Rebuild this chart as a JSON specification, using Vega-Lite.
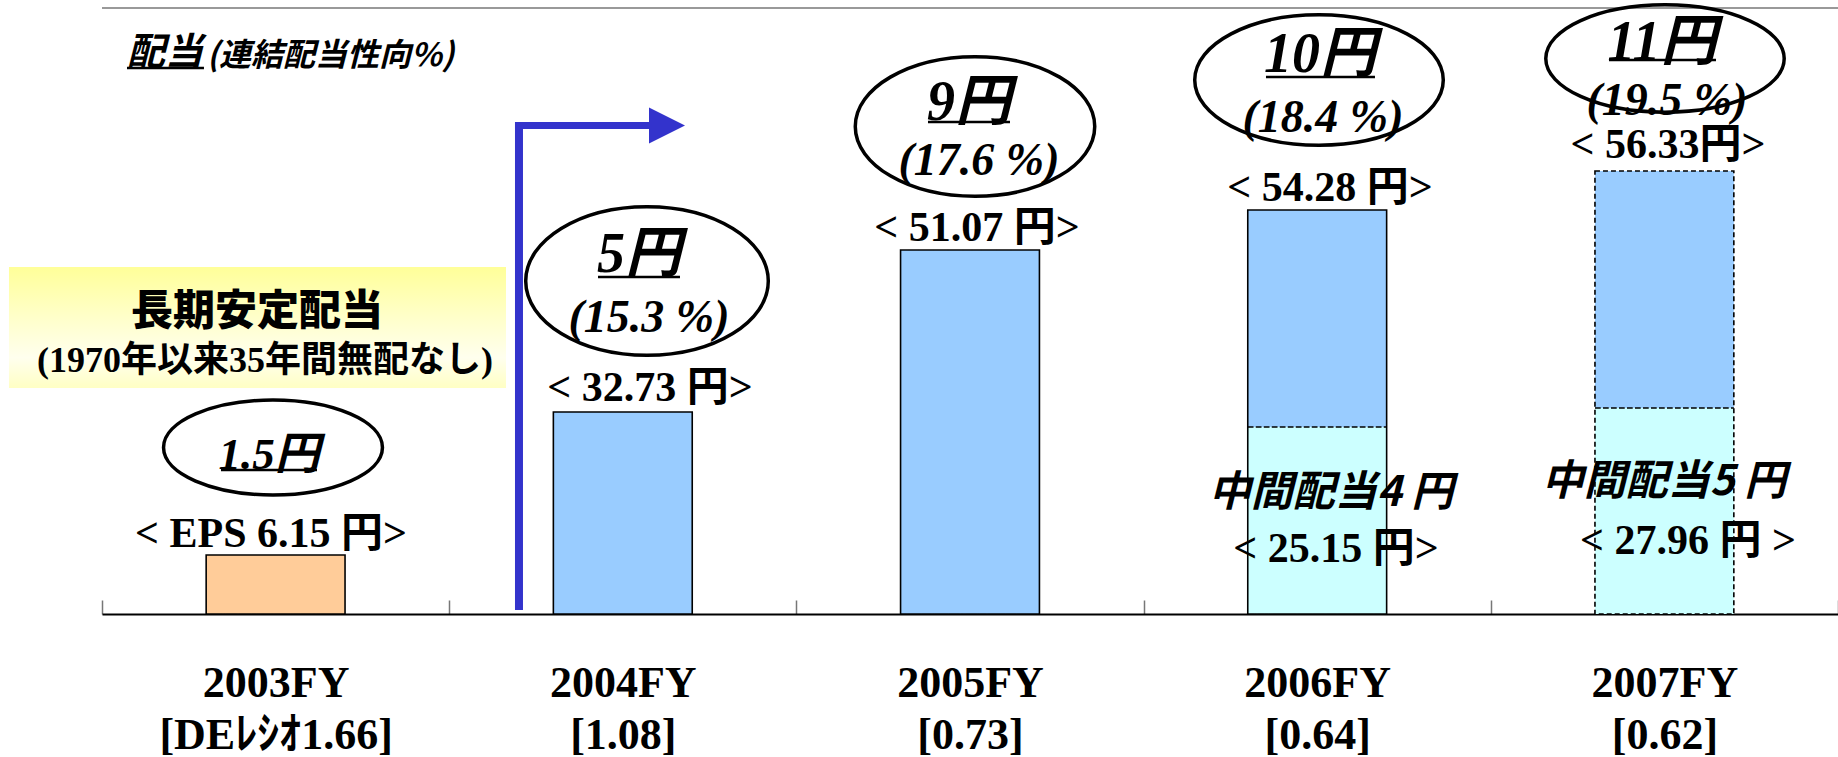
{
  "$schema": "https://vega.github.io/schema/vega-lite/v6.json",
  "width": 1736,
  "height": 606,
  "autosize": {"type": "none"},
  "padding": {"left": 102, "top": 8, "right": 0, "bottom": 143},
  "background": "white",
  "config": {"view": {"stroke": null}, "axis": {"grid": false}},
  "datasets": {
    "bars": [
      {"year": "2003FY", "kind": "2003年度", "lo": 0, "hi": 0.292},
      {"year": "2004FY", "kind": "期末", "lo": 0, "hi": 1.0},
      {"year": "2005FY", "kind": "期末", "lo": 0, "hi": 1.802},
      {"year": "2006FY", "kind": "中間", "lo": 0, "hi": 0.926},
      {"year": "2006FY", "kind": "期末", "lo": 0.926, "hi": 2.0},
      {"year": "2007FY", "kind": "中間", "lo": 0, "hi": 1.02},
      {"year": "2007FY", "kind": "期末", "lo": 1.02, "hi": 2.193}
    ],
    "outline": [
      {"year": "2003FY", "base": 0, "top": 0.292, "line": "実線"},
      {"year": "2004FY", "base": 0, "top": 1.0, "line": "実線"},
      {"year": "2005FY", "base": 0, "top": 1.802, "line": "実線"},
      {"year": "2006FY", "base": 0, "top": 2.0, "line": "実線"},
      {"year": "2007FY", "base": 0, "top": 2.193, "line": "破線"}
    ],
    "divider": [
      {"year": "2006FY", "d": 0.926},
      {"year": "2007FY", "d": 1.02}
    ],
    "frame": [{"f": 3}],
    "box": [{"ax": -0.2679, "ax2": 1.1636, "ay": 1.7178, "ay2": 1.1188}],
    "arrowV": [{"ax": 1.201, "ay": 0.0198, "ay2": 2.4356}],
    "arrowH": [{"ax": 1.1895, "ax2": 1.5841, "ay": 2.4183}],
    "arrowHead": [{"ax": 1.6273, "ay": 2.4183}],
    "ellipses": [
      {"id": "e2003", "ax": 0.4925, "ay": 0.8243},
      {"id": "e2004", "ax": 1.5697, "ay": 1.6485},
      {"id": "e2005", "ax": 2.5144, "ay": 2.4134},
      {"id": "e2006", "ax": 3.5052, "ay": 2.6436},
      {"id": "e2007", "ax": 4.5017, "ay": 2.75}
    ],
    "underlines": [
      {"ax": 0.3427, "ax2": 0.6192, "ay": 0.7129},
      {"ax": 1.4286, "ax2": 1.6647, "ay": 1.6683},
      {"ax": 2.379, "ax2": 2.6152, "ay": 2.4356},
      {"ax": 3.3525, "ax2": 3.6664, "ay": 2.6584},
      {"ax": 4.3404, "ax2": 4.6486, "ay": 2.7426},
      {"ax": 0.072, "ax2": 0.2937, "ay": 2.703}
    ],
    "eps": [
      {"t": "< EPS 6.15 円>", "ax": 0.4868, "ay": 0.396},
      {"t": "< 32.73 円>", "ax": 1.5783, "ay": 1.1188},
      {"t": "< 51.07 円>", "ax": 2.5202, "ay": 1.9109},
      {"t": "< 54.28 円>", "ax": 3.5369, "ay": 2.1089},
      {"t": "< 56.33円>", "ax": 4.5104, "ay": 2.3218},
      {"t": "< 25.15 円>", "ax": 3.5541, "ay": 0.3218},
      {"t": "< 27.96 円 >", "ax": 4.568, "ay": 0.3614}
    ],
    "divSmall": [
      {"t": "1.5円", "ax": 0.481, "ay": 0.7847}
    ],
    "divBig": [
      {"t": "5円", "ax": 1.5467, "ay": 1.7772},
      {"t": "9円", "ax": 2.4971, "ay": 2.5297},
      {"t": "10円", "ax": 3.5081, "ay": 2.7673},
      {"t": "11円", "ax": 4.4931, "ay": 2.8267}
    ],
    "ratio": [
      {"t": "(15.3 %)", "ax": 1.5754, "ay": 1.4653},
      {"t": "(17.6 %)", "ax": 2.5259, "ay": 2.2426},
      {"t": "(18.4 %)", "ax": 3.5167, "ay": 2.4554},
      {"t": "(19.5 %)", "ax": 4.5075, "ay": 2.5396}
    ],
    "interim": [
      {"t": "中間配当4 円", "ax": 3.5398, "ay": 0.599},
      {"t": "中間配当5 円", "ax": 4.4988, "ay": 0.6535}
    ],
    "title1": [{"t": "配当", "ax": 0.072, "ay": 2.7723}],
    "title2": [{"t": "(連結配当性向%)", "ax": 0.3025, "ay": 2.7624}],
    "box1": [{"t": "長期安定配当", "ax": 0.4464, "ay": 1.495}],
    "box2": [{"t": "(1970年以来35年間無配なし)", "ax": 0.4695, "ay": 1.2525}]
  },
  "layer": [
    {
      "data": {"name": "bars"},
      "mark": {"type": "bar", "width": {"band": 0.4}},
      "encoding": {
        "x": {
          "field": "year", "type": "nominal", "sort": null,
          "scale": {"domain": ["2003FY", "2004FY", "2005FY", "2006FY", "2007FY"], "paddingInner": 0, "paddingOuter": 0},
          "axis": {
            "title": null, "tickBand": "extent", "tickSize": -14, "tickColor": "#777777", "tickWidth": 1.5,
            "domainColor": "black", "domainWidth": 2,
            "labelFont": "Liberation Serif, Noto Sans CJK JP", "labelFontSize": 44, "labelFontWeight": "bold",
            "labelColor": "black", "labelAngle": 0, "labelPadding": 61, "labelBaseline": "top",
            "labelLineHeight": 52, "labelLimit": 500, "labelOverlap": false,
            "labelExpr": "datum.value === '2003FY' ? [datum.value, '[DEﾚｼｵ1.66]'] : datum.value === '2004FY' ? [datum.value, '[1.08]'] : datum.value === '2005FY' ? [datum.value, '[0.73]'] : datum.value === '2006FY' ? [datum.value, '[0.64]'] : datum.value === '2007FY' ? [datum.value, '[0.62]'] : ''"
          }
        },
        "y": {
          "field": "lo", "type": "quantitative",
          "scale": {"domain": [0, 3], "nice": false, "zero": false},
          "axis": {"values": [0, 1, 2, 3], "labels": false, "title": null, "ticks": true, "tickSize": -13, "tickColor": "black", "tickWidth": 1.5, "domainColor": "black", "domainWidth": 1.5, "grid": false}
        },
        "y2": {"field": "hi"},
        "color": {
          "field": "kind", "type": "nominal",
          "scale": {"domain": ["2003年度", "期末", "中間"], "range": ["#FFCC99", "#99CCFF", "#CCFFFF"]},
          "legend": null
        }
      }
    },
    {
      "data": {"name": "outline"},
      "mark": {"type": "bar", "width": {"band": 0.4}, "filled": false, "color": "black", "strokeWidth": 1.6},
      "encoding": {
        "x": {"field": "year", "type": "nominal", "sort": null, "scale": {"domain": ["2003FY", "2004FY", "2005FY", "2006FY", "2007FY"], "paddingInner": 0, "paddingOuter": 0}, "axis": null},
        "y": {"field": "base", "type": "quantitative", "scale": {"domain": [0, 3], "nice": false, "zero": false}, "axis": null},
        "y2": {"field": "top"},
        "strokeDash": {"field": "line", "type": "nominal", "scale": {"domain": ["実線", "破線"], "range": [[1, 0], [5, 3]]}, "legend": null}
      }
    },
    {
      "data": {"name": "divider"},
      "mark": {"type": "bar", "width": {"band": 0.4}, "filled": false, "color": "black", "strokeWidth": 1.6, "strokeDash": [5, 3]},
      "encoding": {
        "x": {"field": "year", "type": "nominal", "sort": null, "scale": {"domain": ["2003FY", "2004FY", "2005FY", "2006FY", "2007FY"], "paddingInner": 0, "paddingOuter": 0}, "axis": null},
        "y": {"field": "d", "type": "quantitative", "scale": {"domain": [0, 3], "nice": false, "zero": false}, "axis": null},
        "y2": {"field": "d"}
      }
    },
    {
      "data": {"name": "frame"},
      "mark": {"type": "rule", "color": "#999999", "strokeWidth": 2},
      "encoding": {
        "y": {"field": "f", "type": "quantitative", "scale": {"domain": [0, 3], "nice": false, "zero": false}, "axis": null}
      }
    },
    {
      "data": {"name": "box"},
      "mark": {"type": "rect", "fill": {"gradient": "linear", "x1": 0, "y1": 0, "x2": 0, "y2": 1, "stops": [{"offset": 0, "color": "#FFFF99"}, {"offset": 0.4, "color": "#FFFFC8"}, {"offset": 0.75, "color": "#FFFFEE"}, {"offset": 1, "color": "#FFFFC4"}]}},
      "encoding": {
        "x": {"field": "ax", "type": "quantitative", "scale": {"domain": [0, 5], "nice": false, "zero": false}, "axis": null},
        "x2": {"field": "ax2"},
        "y": {"field": "ay", "type": "quantitative", "scale": {"domain": [0, 3], "nice": false, "zero": false}, "axis": null},
        "y2": {"field": "ay2"}
      }
    },
    {
      "data": {"name": "arrowV"},
      "mark": {"type": "rule", "color": "#3333CC", "strokeWidth": 8},
      "encoding": {
        "x": {"field": "ax", "type": "quantitative", "scale": {"domain": [0, 5], "nice": false, "zero": false}, "axis": null},
        "y": {"field": "ay", "type": "quantitative", "scale": {"domain": [0, 3], "nice": false, "zero": false}, "axis": null},
        "y2": {"field": "ay2"}
      }
    },
    {
      "data": {"name": "arrowH"},
      "mark": {"type": "rule", "color": "#3333CC", "strokeWidth": 7},
      "encoding": {
        "x": {"field": "ax", "type": "quantitative", "scale": {"domain": [0, 5], "nice": false, "zero": false}, "axis": null},
        "x2": {"field": "ax2"},
        "y": {"field": "ay", "type": "quantitative", "scale": {"domain": [0, 3], "nice": false, "zero": false}, "axis": null}
      }
    },
    {
      "data": {"name": "arrowHead"},
      "mark": {"type": "point", "shape": "M-1,-1L1,0L-1,1Z", "size": 1296, "filled": true, "color": "#3333CC", "opacity": 1, "strokeWidth": 0},
      "encoding": {
        "x": {"field": "ax", "type": "quantitative", "scale": {"domain": [0, 5], "nice": false, "zero": false}, "axis": null},
        "y": {"field": "ay", "type": "quantitative", "scale": {"domain": [0, 3], "nice": false, "zero": false}, "axis": null}
      }
    },
    {
      "data": {"name": "ellipses"},
      "mark": {"type": "point", "size": 67600, "filled": false, "color": "black", "opacity": 1, "strokeWidth": 3.5},
      "encoding": {
        "x": {"field": "ax", "type": "quantitative", "scale": {"domain": [0, 5], "nice": false, "zero": false}, "axis": null},
        "y": {"field": "ay", "type": "quantitative", "scale": {"domain": [0, 3], "nice": false, "zero": false}, "axis": null},
        "shape": {
          "field": "id", "type": "nominal", "legend": null,
          "scale": {
            "domain": ["e2003", "e2004", "e2005", "e2006", "e2007"],
            "range": [
              "M0.842,0C0.842,0.2016,0.465,0.365,0,0.365C-0.465,0.365,-0.842,0.2016,-0.842,0C-0.842,-0.2016,-0.465,-0.365,0,-0.365C0.465,-0.365,0.842,-0.2016,0.842,0Z",
              "M0.933,0C0.933,0.3154,0.5153,0.571,0,0.571C-0.5153,0.571,-0.933,0.3154,-0.933,0C-0.933,-0.3154,-0.5153,-0.571,0,-0.571C0.5153,-0.571,0.933,-0.3154,0.933,0Z",
              "M0.921,0C0.921,0.2966,0.5087,0.537,0,0.537C-0.5087,0.537,-0.921,0.2966,-0.921,0C-0.921,-0.2966,-0.5087,-0.537,0,-0.537C0.5087,-0.537,0.921,-0.2966,0.921,0Z",
              "M0.956,0C0.956,0.2772,0.528,0.502,0,0.502C-0.528,0.502,-0.956,0.2772,-0.956,0C-0.956,-0.2772,-0.528,-0.502,0,-0.502C0.528,-0.502,0.956,-0.2772,0.956,0Z",
              "M0.917,0C0.917,0.2281,0.5065,0.413,0,0.413C-0.5065,0.413,-0.917,0.2281,-0.917,0C-0.917,-0.2281,-0.5065,-0.413,0,-0.413C0.5065,-0.413,0.917,-0.2281,0.917,0Z"
            ]
          }
        }
      }
    },
    {
      "data": {"name": "underlines"},
      "mark": {"type": "rule", "color": "black", "strokeWidth": 2.5},
      "encoding": {
        "x": {"field": "ax", "type": "quantitative", "scale": {"domain": [0, 5], "nice": false, "zero": false}, "axis": null},
        "x2": {"field": "ax2"},
        "y": {"field": "ay", "type": "quantitative", "scale": {"domain": [0, 3], "nice": false, "zero": false}, "axis": null}
      }
    },
    {
      "data": {"name": "eps"},
      "mark": {"type": "text", "font": "Liberation Serif, Noto Sans CJK JP", "fontWeight": "bold", "fontSize": 42, "align": "center", "baseline": "middle", "color": "black"},
      "encoding": {
        "x": {"field": "ax", "type": "quantitative", "scale": {"domain": [0, 5], "nice": false, "zero": false}, "axis": null},
        "y": {"field": "ay", "type": "quantitative", "scale": {"domain": [0, 3], "nice": false, "zero": false}, "axis": null},
        "text": {"field": "t", "type": "nominal"}
      }
    },
    {
      "data": {"name": "divSmall"},
      "mark": {"type": "text", "font": "Liberation Serif, Noto Sans CJK JP", "fontWeight": "bold", "fontStyle": "italic", "fontSize": 45, "align": "center", "baseline": "middle", "color": "black"},
      "encoding": {
        "x": {"field": "ax", "type": "quantitative", "scale": {"domain": [0, 5], "nice": false, "zero": false}, "axis": null},
        "y": {"field": "ay", "type": "quantitative", "scale": {"domain": [0, 3], "nice": false, "zero": false}, "axis": null},
        "text": {"field": "t", "type": "nominal"}
      }
    },
    {
      "data": {"name": "divBig"},
      "mark": {"type": "text", "font": "Liberation Serif, Noto Sans CJK JP", "fontWeight": "bold", "fontStyle": "italic", "fontSize": 56, "align": "center", "baseline": "middle", "color": "black"},
      "encoding": {
        "x": {"field": "ax", "type": "quantitative", "scale": {"domain": [0, 5], "nice": false, "zero": false}, "axis": null},
        "y": {"field": "ay", "type": "quantitative", "scale": {"domain": [0, 3], "nice": false, "zero": false}, "axis": null},
        "text": {"field": "t", "type": "nominal"}
      }
    },
    {
      "data": {"name": "ratio"},
      "mark": {"type": "text", "font": "Liberation Serif, Noto Sans CJK JP", "fontWeight": "bold", "fontStyle": "italic", "fontSize": 46, "align": "center", "baseline": "middle", "color": "black"},
      "encoding": {
        "x": {"field": "ax", "type": "quantitative", "scale": {"domain": [0, 5], "nice": false, "zero": false}, "axis": null},
        "y": {"field": "ay", "type": "quantitative", "scale": {"domain": [0, 3], "nice": false, "zero": false}, "axis": null},
        "text": {"field": "t", "type": "nominal"}
      }
    },
    {
      "data": {"name": "interim"},
      "mark": {"type": "text", "font": "Noto Sans CJK JP", "fontWeight": "bold", "fontStyle": "italic", "fontSize": 42, "align": "center", "baseline": "middle", "color": "black"},
      "encoding": {
        "x": {"field": "ax", "type": "quantitative", "scale": {"domain": [0, 5], "nice": false, "zero": false}, "axis": null},
        "y": {"field": "ay", "type": "quantitative", "scale": {"domain": [0, 3], "nice": false, "zero": false}, "axis": null},
        "text": {"field": "t", "type": "nominal"}
      }
    },
    {
      "data": {"name": "title1"},
      "mark": {"type": "text", "font": "Noto Sans CJK JP", "fontWeight": "bold", "fontStyle": "italic", "fontSize": 38, "align": "left", "baseline": "middle", "color": "black"},
      "encoding": {
        "x": {"field": "ax", "type": "quantitative", "scale": {"domain": [0, 5], "nice": false, "zero": false}, "axis": null},
        "y": {"field": "ay", "type": "quantitative", "scale": {"domain": [0, 3], "nice": false, "zero": false}, "axis": null},
        "text": {"field": "t", "type": "nominal"}
      }
    },
    {
      "data": {"name": "title2"},
      "mark": {"type": "text", "font": "Noto Sans CJK JP", "fontWeight": "bold", "fontStyle": "italic", "fontSize": 32, "align": "left", "baseline": "middle", "color": "black"},
      "encoding": {
        "x": {"field": "ax", "type": "quantitative", "scale": {"domain": [0, 5], "nice": false, "zero": false}, "axis": null},
        "y": {"field": "ay", "type": "quantitative", "scale": {"domain": [0, 3], "nice": false, "zero": false}, "axis": null},
        "text": {"field": "t", "type": "nominal"}
      }
    },
    {
      "data": {"name": "box1"},
      "mark": {"type": "text", "font": "Noto Sans CJK JP", "fontWeight": 900, "fontSize": 42, "align": "center", "baseline": "middle", "color": "black"},
      "encoding": {
        "x": {"field": "ax", "type": "quantitative", "scale": {"domain": [0, 5], "nice": false, "zero": false}, "axis": null},
        "y": {"field": "ay", "type": "quantitative", "scale": {"domain": [0, 3], "nice": false, "zero": false}, "axis": null},
        "text": {"field": "t", "type": "nominal"}
      }
    },
    {
      "data": {"name": "box2"},
      "mark": {"type": "text", "font": "Liberation Serif, Noto Sans CJK JP", "fontWeight": "bold", "fontSize": 36, "align": "center", "baseline": "middle", "color": "black"},
      "encoding": {
        "x": {"field": "ax", "type": "quantitative", "scale": {"domain": [0, 5], "nice": false, "zero": false}, "axis": null},
        "y": {"field": "ay", "type": "quantitative", "scale": {"domain": [0, 3], "nice": false, "zero": false}, "axis": null},
        "text": {"field": "t", "type": "nominal"}
      }
    }
  ],
  "resolve": {"scale": {"x": "independent"}, "axis": {"x": "independent"}}
}
